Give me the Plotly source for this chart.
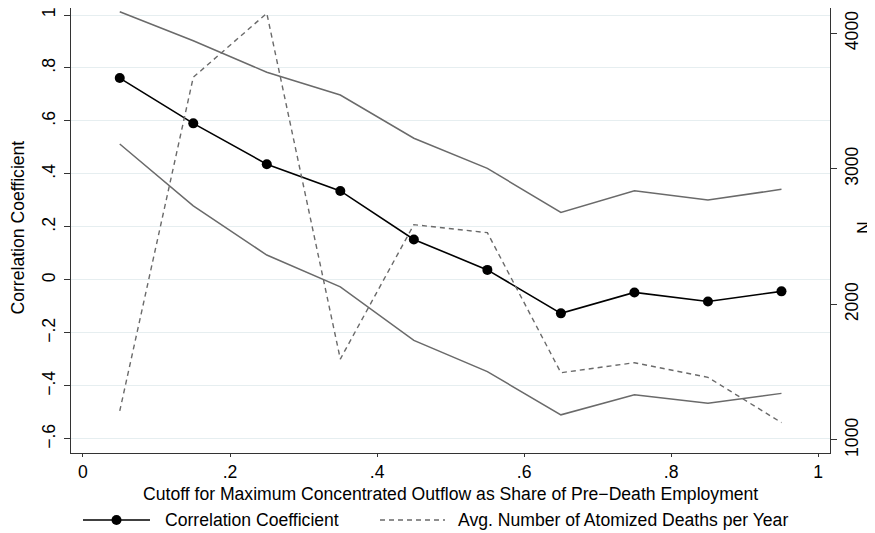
import plotly.graph_objects as go

# Data
cutoffs = [0.05, 0.15, 0.25, 0.35, 0.45, 0.55, 0.65, 0.75, 0.85, 0.95]
corr = [0.762, 0.591, 0.437, 0.336, 0.153, 0.038, -0.126, -0.047, -0.081, -0.043]
ci_upper = [1.012, 0.903, 0.784, 0.698, 0.535, 0.421, 0.255, 0.337, 0.302, 0.342]
ci_lower = [0.513, 0.280, 0.094, -0.026, -0.228, -0.346, -0.509, -0.433, -0.465, -0.428]
n_deaths = [1214, 3675, 4147, 1597, 2588, 2529, 1496, 1570, 1462, 1128]

left_tickvals = [-0.6, -0.4, -0.2, 0, 0.2, 0.4, 0.6, 0.8, 1]
left_ticktext = ["\u2212.6", "\u2212.4", "\u2212.2", "0", ".2", ".4", ".6", ".8", "1"]
right_tickvals = [1000, 2000, 3000, 4000]
right_ticktext = ["1000", "2000", "3000", "4000"]
x_tickvals = [0, 0.2, 0.4, 0.6, 0.8, 1]
x_ticktext = ["0", ".2", ".4", ".6", ".8", "1"]

legend_labels = ["Correlation Coefficient", "Avg. Number of Atomized Deaths per Year"]
x_title = "Cutoff for Maximum Concentrated Outflow as Share of Pre\u2212Death Employment"
y_title = "Correlation Coefficient"
y2_title = "N"

FONT = "Liberation Sans, Arial, sans-serif"
FS = 17.6
GRAY = "#6a6a6a"

fig = go.Figure()
fig.add_trace(go.Scatter(x=cutoffs, y=ci_upper, mode="lines",
                         line=dict(color=GRAY, width=1.5), showlegend=False, yaxis="y"))
fig.add_trace(go.Scatter(x=cutoffs, y=ci_lower, mode="lines",
                         line=dict(color=GRAY, width=1.5), showlegend=False, yaxis="y"))
fig.add_trace(go.Scatter(x=cutoffs, y=n_deaths, mode="lines",
                         line=dict(color=GRAY, width=1.4, dash="5px,4px"),
                         showlegend=False, yaxis="y2"))
fig.add_trace(go.Scatter(x=cutoffs, y=corr, mode="lines+markers",
                         line=dict(color="black", width=1.6),
                         marker=dict(color="black", size=10),
                         showlegend=False, yaxis="y"))

# the page body adds an 8px offset; figure sized to fit the window
OFF = 8
W, H = 867, 525
ml, mr, mt, mb = 63, 45, 0, 80
pw, ph = W - ml - mr, H - mt - mb

def px_x(p):
    return (p - OFF - ml) / pw

def px_y(p):
    return (H - mb - (p - OFF)) / ph

shapes = []
annotations = []
ly = px_y(520)
shapes.append(dict(type="line", xref="paper", yref="paper", x0=px_x(83), x1=px_x(150),
                   y0=ly, y1=ly, line=dict(color="black", width=1.6)))
shapes.append(dict(type="circle", xref="paper", yref="paper", xsizemode="pixel", ysizemode="pixel",
                   xanchor=px_x(116.5), yanchor=ly, x0=-5, x1=5, y0=-5, y1=5,
                   fillcolor="black", line=dict(color="black", width=0)))
annotations.append(dict(xref="paper", yref="paper", x=px_x(163), y=ly, text=legend_labels[0],
                        showarrow=False, xanchor="left", yanchor="middle",
                        font=dict(family=FONT, size=FS, color="black")))
shapes.append(dict(type="line", xref="paper", yref="paper", x0=px_x(380), x1=px_x(445),
                   y0=ly, y1=ly, line=dict(color=GRAY, width=1.4, dash="5px,4px")))
annotations.append(dict(xref="paper", yref="paper", x=px_x(456), y=ly, text=legend_labels[1],
                        showarrow=False, xanchor="left", yanchor="middle",
                        font=dict(family=FONT, size=FS, color="black")))
# axis titles as annotations for exact placement
annotations.append(dict(xref="paper", yref="paper", x=px_x(17.5), y=px_y(228), text=y_title,
                        showarrow=False, textangle=-90, xanchor="center", yanchor="middle",
                        font=dict(family=FONT, size=FS, color="black")))
annotations.append(dict(xref="paper", yref="paper", x=px_x(864), y=px_y(228), text=y2_title,
                        showarrow=False, textangle=-90, xanchor="center", yanchor="middle",
                        font=dict(family=FONT, size=FS, color="black")))
annotations.append(dict(xref="paper", yref="paper", x=px_x(450.5), y=px_y(494), text=x_title,
                        showarrow=False, xanchor="center", yanchor="middle",
                        font=dict(family=FONT, size=FS, color="black")))

axis_common = dict(zeroline=False, showline=True, linecolor="#333", linewidth=1,
                   ticks="outside", tickcolor="#333", ticklabeloverflow="allow")

fig.update_layout(
    width=W, height=H,
    margin=dict(l=ml, r=mr, t=mt, b=mb),
    paper_bgcolor="white", plot_bgcolor="white",
    font=dict(family=FONT, size=FS, color="black"),
    showlegend=False,
    shapes=shapes, annotations=annotations,
    xaxis=dict(range=[-0.0163, 1.016], tickvals=x_tickvals, ticktext=x_ticktext,
               showgrid=False, ticklen=3, **axis_common),
    yaxis=dict(range=[-0.653, 1.0264], tickvals=left_tickvals, ticktext=left_ticktext,
               tickangle=-90, showgrid=True, gridcolor="#e6eef0", gridwidth=1,
               ticklen=6, ticklabelstandoff=2, **axis_common),
    yaxis2=dict(range=[904, 4186], tickvals=right_tickvals, ticktext=right_ticktext,
                overlaying="y", side="right", tickangle=-90, showgrid=False,
                ticklen=6, **axis_common),
)

fig.write_html("out.html")
